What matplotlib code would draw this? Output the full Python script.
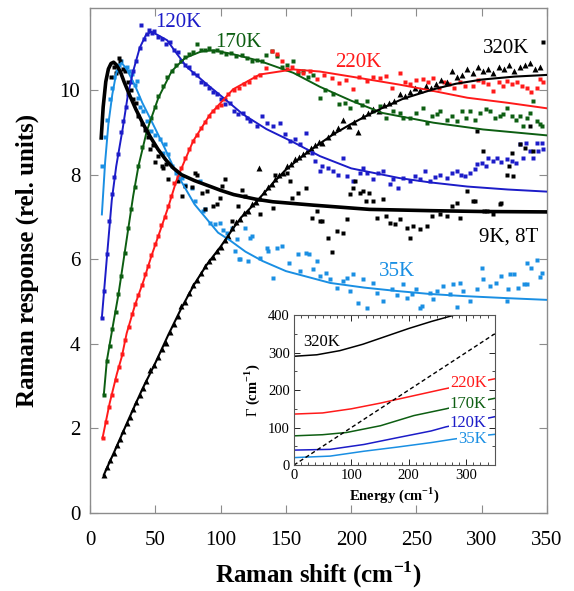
"""
Raman response vs. Raman shift at several temperatures,
with inset of the scattering rate Gamma vs. energy
"""

#%% import modules

import numpy as np
import matplotlib.pyplot as plt
import matplotlib as mpl
from matplotlib.ticker import MultipleLocator

#%% global plot settings

mpl.rcParams.update(mpl.rcParamsDefault)
mpl.rcParams['font.family'] = 'serif'
mpl.rcParams['font.serif'] = ['Liberation Serif', 'DejaVu Serif']
mpl.rcParams['mathtext.fontset'] = 'custom'
mpl.rcParams['mathtext.rm'] = 'Liberation Serif'
mpl.rcParams['mathtext.bf'] = 'Liberation Serif:bold'
mpl.rcParams['xtick.direction'] = 'in'
mpl.rcParams['ytick.direction'] = 'in'

c35 = '#1a8fe3'
c120 = '#1c1cc8'
c170 = '#0d5e12'
c220 = '#ff1a1a'
frame_gray = '#8c8c8c'

#%% data: fits (lines) and measured spectra (points)

# 9K, 8T
x9_fit = [8.5, 10, 12, 14, 16, 18, 20, 23, 26, 30, 35, 40.6, 46, 52, 58, 63.6, 70,
          80, 94, 100, 110, 127, 140, 171, 214, 260, 300, 350]
y9_fit = [8.87, 9.6, 10.2, 10.5, 10.63, 10.66, 10.6, 10.45, 10.2, 9.9, 9.55, 9.2, 8.9,
          8.6, 8.35, 8.16, 8.0, 7.86, 7.7, 7.63, 7.53, 7.42, 7.36, 7.28, 7.18, 7.15, 7.13, 7.12]
x9 = [16, 18, 20, 22, 23, 25, 27, 29, 31, 33, 35, 37, 40, 42, 44, 46, 48, 50, 52, 55,
      56, 58, 60, 67, 70.5, 73, 78, 80, 82, 86, 88, 89.6, 94, 97, 99.5, 101, 103.5, 109,
      113, 116, 119, 130, 140, 142, 151, 153, 155, 159, 165, 170, 174, 176, 178, 182,
      185, 189, 194, 197, 199, 201, 203, 207, 209, 211, 214, 217, 220, 224, 227, 230,
      233.5, 237, 243, 245, 247, 253, 258, 262, 268, 273, 277, 281, 283, 289, 293, 295,
      296, 301, 302, 304, 309, 314, 315, 319, 321, 323, 324, 329, 333, 337, 339, 347]
y9 = [10.3, 10.55, 10.4, 10.75, 10.7, 10.5, 10.45, 10.2, 10.0, 9.8, 9.7, 9.4, 9.2, 9.05,
      8.9, 8.6, 8.7, 8.3, 8.45, 8.2, 8.15, 8.25, 7.9, 7.85, 7.5, 7.73, 7.7, 8.04, 8.0,
      7.57, 7.2, 7.61, 7.26, 7.3, 7.45, 7.73, 7.9, 6.9, 7.26, 7.63, 7.5, 7.07, 7.21, 8.0,
      8.04, 7.85, 7.45, 7.57, 7.68, 6.97, 7.14, 6.9, 6.9, 6.5, 6.17, 6.67, 6.62, 6.95,
      7.54, 7.68, 7.85, 7.57, 7.61, 7.38, 7.57, 7.38, 6.97, 7.42, 7.02, 6.86, 6.83, 6.95,
      6.74, 6.5, 6.79, 6.71, 6.79, 7.02, 7.07, 7.02, 7.26, 7.33, 6.97, 7.61, 7.38, 7.38,
      9.03, 8.56, 7.14, 7.14, 7.07, 7.3, 7.32, 8.0, 8.2, 8.51, 7.97, 8.72, 8.63, 9.15,
      8.56, 11.15]

# 35K
x35_fit = [9, 11.5, 14, 17, 20, 24, 28, 34.5, 40, 47, 57, 65, 80, 98, 107, 119, 132,
           150, 184, 210, 235, 260, 286, 320, 350]
y35_fit = [7.06, 8.3, 9.2, 9.9, 10.4, 10.65, 10.5, 10.1, 9.7, 9.27, 8.64, 8.1, 7.3,
           6.63, 6.45, 6.18, 5.96, 5.72, 5.44, 5.33, 5.25, 5.18, 5.13, 5.08, 5.04]
x35 = [9.4, 11.5, 13, 15.3, 16.6, 18.5, 20.4, 22, 24, 26.8, 28, 30, 31.9, 34.5, 35.7,
       36.8, 38, 40.6, 43.4, 47, 50, 53.6, 56, 57.4, 60, 63, 66, 70.5, 73, 78, 80, 84,
       86.5, 88, 92, 95.7, 99.5, 102, 105, 108.7, 111, 112.6, 114, 115, 118.6, 121,
       122.5, 124, 130, 135.5, 136, 140, 143, 147, 152, 159, 161, 165, 168, 171, 174,
       176, 181, 184, 189, 194, 197, 199, 201, 205, 209, 212, 217, 220, 224, 231, 235,
       240, 243, 246.5, 250, 253, 254, 260, 263, 266, 270, 276, 278, 281, 283, 286, 291,
       296, 300, 301, 306, 311, 315, 319, 320, 322, 325, 328, 332, 334.6, 335, 338, 342,
       344.5, 346]
y35 = [8.2, 8.9, 9.3, 9.8, 10.05, 10.3, 10.45, 10.6, 10.7, 10.53, 10.55, 10.45, 10.37,
       10.13, 10.21, 9.82, 9.6, 9.5, 9.27, 9.03, 8.95, 8.84, 8.51, 8.72, 8.48, 8.2, 8.05,
       7.92, 7.75, 7.68, 7.38, 7.85, 7.14, 7.19, 6.86, 6.83, 6.86, 6.7, 6.62, 6.74, 6.19,
       6.48, 6.0, 6.0, 6.74, 5.96, 6.5, 6.55, 6.03, 6.26, 6.2, 5.56, 6.26, 6.31, 5.91,
       6.12, 5.72, 6.15, 6.12, 5.77, 5.96, 5.6, 5.67, 5.53, 5.32, 5.48, 5.56, 5.25, 5.65,
       4.96, 5.53, 4.85, 5.44, 5.2, 5.01, 5.3, 5.15, 5.41, 5.08, 5.18, 5.3, 4.85, 4.9,
       5.2, 5.06, 5.25, 5.37, 5.18, 5.41, 4.87, 5.44, 5.25, 5.01, 5.3, 5.79, 5.53, 5.37,
       5.44, 5.6, 5.01, 5.3, 5.65, 5.65, 5.32, 5.41, 5.91, 5.41, 5.79, 5.98, 5.58, 5.67]

# 120K
x120_fit = [9, 13, 16.6, 20, 25, 29, 33, 38, 43, 47, 52, 59, 66, 74, 89, 102, 117,
            135, 155, 176, 200, 237, 260, 289, 320, 350]
y120_fit = [4.62, 6.1, 7.4, 8.2, 9.1, 9.9, 10.45, 11.0, 11.32, 11.38, 11.3, 11.18,
            10.88, 10.55, 10.15, 9.82, 9.43, 9.08, 8.78, 8.44, 8.15, 7.92, 7.82, 7.72,
            7.65, 7.6]
x120 = [9, 10.5, 12.8, 14.5, 16.6, 18.5, 21.7, 24, 25.5, 27.5, 29.3, 31, 33.2, 35,
        38.3, 39, 41, 43.4, 45, 47.2, 49, 52, 55, 58, 61, 64, 67, 70, 73, 76, 79, 82,
        85, 88, 91, 94, 97, 100, 103, 107, 110, 113, 117, 120, 122.5, 128, 131.7, 135.5,
        140, 145.5, 149, 153, 157, 161, 165, 170, 172, 176, 178, 182, 186, 190, 194, 197,
        201, 207, 209, 212, 217, 220.5, 224, 230, 232, 236, 240, 245, 249, 253, 256.5,
        260, 264, 268, 273, 277, 281, 284, 287, 291, 295, 296, 300, 303, 305, 309, 311.6,
        315, 319, 323, 326, 329, 331.5, 334, 337, 339, 342, 343, 346, 347]
y120 = [4.62, 5.25, 6.12, 6.9, 7.55, 7.95, 8.48, 9.0, 9.27, 9.6, 9.9, 10.2, 10.45,
        10.7, 11.0, 11.54, 11.2, 11.32, 11.42, 11.36, 11.4, 11.25, 11.2, 11.1, 11.15,
        10.95, 10.9, 10.7, 10.6, 10.55, 10.4, 10.35, 10.2, 10.15, 10.05, 9.95, 9.9, 9.8,
        9.67, 9.7, 9.5, 9.43, 9.45, 9.35, 9.27, 9.15, 9.38, 9.22, 9.15, 9.22, 8.96, 8.8,
        8.85, 8.72, 8.98, 8.51, 8.32, 8.08, 8.2, 8.15, 8.08, 8.0, 8.4, 7.97, 7.85, 8.04,
        8.16, 8.04, 7.9, 8.04, 8.08, 7.78, 7.9, 7.68, 7.92, 7.85, 7.97, 7.9, 8.08, 7.85,
        7.95, 8.0, 7.92, 8.04, 8.08, 8.0, 7.97, 8.05, 8.13, 8.25, 8.27, 8.2, 8.4, 8.32,
        8.4, 8.3, 8.37, 8.32, 8.28, 8.72, 8.4, 8.75, 8.56, 8.4, 8.75, 8.56, 8.75, 8.6]

# 170K
x170_fit = [10.5, 12.8, 17, 21.7, 25, 29.3, 33, 37, 43.4, 52.3, 62.5, 72.7, 85.5, 95,
            109.5, 130, 155.6, 176, 200, 224, 263, 301, 350]
y170_fit = [2.8, 3.6, 4.35, 5.17, 5.85, 6.74, 7.5, 8.2, 9.03, 9.82, 10.45, 10.76,
            10.92, 10.94, 10.85, 10.69, 10.41, 10.08, 9.75, 9.46, 9.23, 9.07, 8.93]
x170 = [10.5, 12.8, 15, 17, 19.5, 21.7, 24, 26.5, 29.3, 31.5, 34, 37, 40, 43.4, 46.5,
        49.5, 52.3, 55.5, 59, 62.5, 66, 69.5, 72.7, 76, 79, 81.7, 85, 88, 91, 94, 97,
        100, 104, 108, 112, 116, 120, 124, 128, 132, 135, 139, 143, 147, 151, 155.6, 159,
        163, 167, 171, 176, 180, 186, 191, 195, 199, 204, 208, 212, 217, 222, 227, 232,
        237, 240, 245, 250, 255, 258, 262, 266, 268, 273, 277, 281, 285, 288, 291, 295,
        299, 303, 306, 310, 314, 316, 319, 323, 326, 329, 331.5, 334.6, 337, 339, 342,
        344.5, 346]
y170 = [2.8, 3.6, 3.95, 4.35, 4.75, 5.17, 5.6, 6.15, 6.74, 7.2, 7.7, 8.2, 8.65, 9.03,
        9.35, 9.6, 9.85, 10.1, 10.3, 10.45, 10.6, 10.7, 10.78, 10.85, 10.9, 11.08, 10.95,
        10.95, 11.0, 10.92, 10.95, 10.9, 10.85, 10.88, 10.8, 10.82, 10.75, 10.7, 10.72,
        10.7, 10.84, 10.92, 10.8, 10.55, 10.6, 10.69, 10.4, 10.45, 10.3, 10.35, 9.82,
        10.0, 9.9, 9.67, 9.7, 9.58, 9.74, 9.65, 9.74, 9.5, 9.62, 9.34, 9.5, 9.46, 9.34,
        9.34, 9.45, 9.58, 9.22, 9.4, 9.43, 9.5, 9.3, 9.4, 9.27, 9.5, 9.35, 9.5, 9.3, 9.46,
        9.55, 9.5, 9.35, 9.38, 9.43, 9.58, 9.4, 9.3, 9.38, 9.15, 9.34, 9.45, 9.74, 9.27,
        9.2, 9.15]

# 220K
x220_fit = [9.5, 12, 15, 20.4, 24.3, 28, 34.5, 40.8, 47.2, 53.6, 60, 66, 72, 79, 92,
            109.5, 130, 155.6, 176, 200, 237, 263, 289, 320, 350]
y220_fit = [1.77, 2.15, 2.6, 3.28, 3.7, 4.25, 4.93, 5.48, 6.1, 6.67, 7.25, 7.85, 8.3,
            8.8, 9.43, 10.02, 10.37, 10.49, 10.44, 10.32, 10.13, 9.98, 9.82, 9.7, 9.57]
x220 = [9.5, 12, 14.5, 17, 19.5, 22, 24.5, 27, 29.5, 32, 34.5, 37, 39.5, 42, 44.5, 47,
        49.5, 52, 54.5, 57, 59.5, 62, 64.5, 67, 70, 73, 76, 79, 82, 85, 88, 91, 94, 97,
        100, 103, 106, 110, 114, 118, 122, 126, 130, 135, 139, 143, 147, 151, 155, 159,
        163, 168.5, 174, 179, 185, 191, 196, 201, 206, 212, 217, 222, 227, 231, 237, 241,
        245, 250, 255, 259, 263, 267, 271, 275, 279, 283, 287, 293, 297, 301, 305, 309,
        313, 316, 319, 323, 327, 331, 335, 338, 342, 344.5, 347]
y220 = [1.77, 2.15, 2.5, 2.8, 3.15, 3.45, 3.75, 4.1, 4.4, 4.7, 4.95, 5.15, 5.4, 5.65,
        5.85, 6.1, 6.35, 6.55, 6.8, 7.0, 7.25, 7.5, 7.8, 7.95, 8.15, 8.4, 8.6, 8.8, 8.95,
        9.1, 9.25, 9.4, 9.5, 9.6, 9.65, 9.8, 9.9, 10.0, 10.05, 10.15, 10.2, 10.3, 10.35,
        10.53, 10.92, 10.85, 10.7, 10.5, 10.55, 10.45, 10.4, 10.45, 10.26, 10.35, 10.29,
        10.17, 10.25, 10.02, 10.3, 10.21, 10.3, 10.29, 10.33, 10.05, 10.4, 10.2, 10.15,
        10.25, 10.26, 10.2, 10.29, 10.05, 10.2, 10.15, 10.05, 10.2, 10.1, 10.1, 10.25,
        10.2, 10.15, 9.98, 10.2, 10.1, 10.21, 10.15, 10.2, 10.1, 10.05, 9.95, 10.05,
        10.26, 10.2]

# 320K
x320_fit = [10.5, 20, 30, 40, 50, 60, 70, 80, 90, 100, 110, 116, 125, 140, 150, 161,
            171, 186, 200, 214, 224, 240, 263, 280, 300, 325, 350]
y320_fit = [0.9, 1.55, 2.25, 2.93, 3.55, 4.22, 4.85, 5.42, 5.9, 6.3, 6.75, 7.0, 7.28,
            7.8, 8.12, 8.4, 8.63, 8.95, 9.2, 9.43, 9.58, 9.8, 10.02, 10.15, 10.25, 10.32,
            10.36]
x320 = [10.7, 13, 15.5, 18, 20.5, 23, 25.5, 28, 30.5, 33, 35.5, 38, 40.5, 43, 46, 49,
        52, 55, 58, 61, 64, 67, 70, 73, 76, 79, 82, 85, 88, 91, 94, 97, 100, 103, 106,
        109, 112, 115, 118, 121, 124, 127, 129, 130, 133, 136, 139, 142, 145, 148, 151,
        154, 157, 160, 163, 166, 169, 172, 175, 178, 182, 186, 190, 194, 198, 202, 205,
        209, 213, 217, 221, 225, 229, 233, 237, 241, 245, 249, 253, 257, 261, 265, 269,
        273, 277, 281, 285, 289, 293, 297, 301, 305, 309, 313, 317, 321, 325, 329, 333,
        337, 341, 345]
y320 = [0.9, 1.08, 1.25, 1.42, 1.6, 1.76, 1.94, 2.12, 2.28, 2.45, 2.63, 2.8, 2.96,
        3.12, 3.38, 3.5, 3.68, 3.88, 4.02, 4.28, 4.47, 4.66, 4.9, 5.0, 5.2, 5.38, 5.5,
        5.68, 5.85, 5.95, 6.05, 6.2, 6.3, 6.45, 6.55, 6.75, 6.88, 6.95, 7.1, 7.15, 7.3,
        7.35, 8.16, 7.45, 7.6, 7.7, 7.78, 7.9, 8.0, 8.05, 8.2, 8.25, 8.38, 8.42, 8.5,
        8.55, 8.62, 8.7, 8.78, 8.75, 8.9, 9.0, 9.1, 9.3, 9.15, 9.25, 9.0, 9.4, 9.45, 9.55,
        9.5, 9.65, 9.7, 9.75, 9.9, 9.85, 9.95, 10.05, 10.0, 10.1, 10.05, 10.15, 10.25,
        10.2, 10.45, 10.3, 10.35, 10.5, 10.4, 10.55, 10.45, 10.5, 10.4, 10.55, 10.5, 10.6,
        10.45, 10.55, 10.6, 10.65, 10.5, 10.55]

# inset: Gamma vs energy
e320 = [0, 40, 80, 120, 160, 200, 240, 280, 300]
g320 = [290, 294, 305, 322, 343, 364, 383, 400, 410]
e220 = [0, 50, 100, 150, 200, 262, 300, 350]
g220 = [136, 139, 150, 165, 182, 203, 215, 230]
e170 = [0, 50, 92, 151, 209, 265, 300, 350]
g170 = [78, 81, 87, 105, 132, 150, 163, 178]
e120 = [0, 63, 122, 180, 239, 265, 300, 350]
g120 = [40, 42, 55, 73, 91, 102, 113, 129]
e35 = [0, 63, 122, 180, 239, 277, 300, 350]
g35 = [20, 24, 37, 48, 60, 69, 74, 82]
e_diag = [0, 350]
g_diag = [0, 350]

#%% plot

fig = plt.figure(figsize=(5.74, 5.91), dpi=100)
ax = fig.add_axes([0.157, 0.132, 0.796, 0.855])

ms_pt = 2.3
series = [(x35, y35, x35_fit, y35_fit, c35),
          (x120, y120, x120_fit, y120_fit, c120),
          (x170, y170, x170_fit, y170_fit, c170),
          (x220, y220, x220_fit, y220_fit, c220)]
for xd, yd, xf, yf, col in series:
    ax.plot(xd, yd, 's', ms=ms_pt, mec='none', mfc=col, zorder=2)
    ax.plot(xf, yf, '-', lw=1.4, color=col, zorder=3)

ax.plot(x9, y9, 's', ms=ms_pt, mec='none', mfc='k', zorder=2)
ax.plot(x9_fit, y9_fit, '-', lw=2.6, color='k', zorder=4)
ax.plot(x320, y320, '^', ms=4.2, mec='none', mfc='k', zorder=2)
ax.plot(x320_fit, y320_fit, '-', lw=1.5, color='k', zorder=3)

# curve labels
lab_kw = dict(fontsize=15, va='center', ha='left')
ax.text(50, 11.6, '120K', color=c120, **lab_kw)
ax.text(96, 11.12, '170K', color=c170, **lab_kw)
ax.text(188, 10.66, '220K', color=c220, **lab_kw)
ax.text(301, 10.98, '320K', color='k', **lab_kw)
ax.text(298, 6.52, '9K, 8T', color='k', **lab_kw)
ax.text(221, 5.72, '35K', color=c35, **lab_kw)

# axes
ax.set_xlim(0, 350)
ax.set_ylim(0, 11.95)
ax.xaxis.set_major_locator(MultipleLocator(50))
ax.yaxis.set_major_locator(MultipleLocator(2))
ax.tick_params(which='both', top=True, right=True, length=6, width=0.8,
               color=frame_gray, labelsize=15, pad=7)
ax.tick_params(axis='x', pad=13)
for sp in ax.spines.values():
    sp.set_color(frame_gray)
    sp.set_linewidth(1.0)
ax.set_xlabel(r'Raman shift (cm$^{\mathbf{-1}}$)', fontsize=18, fontweight='bold',
              labelpad=7)
ax.set_ylabel('Raman response (rel. units)', fontsize=18, fontweight='bold',
              labelpad=15)

#------------------------------------------------------------------------------
# inset

ins = fig.add_axes([0.512, 0.213, 0.350, 0.254])
ins.plot(e320, g320, '-', lw=1.1, color='k')
ins.plot(e220, g220, '-', lw=1.1, color=c220)
ins.plot(e170, g170, '-', lw=1.1, color=c170)
ins.plot(e120, g120, '-', lw=1.1, color=c120)
ins.plot(e35, g35, '-', lw=1.1, color=c35)
ins.plot(e_diag, g_diag, '--', lw=1.0, color='k', dashes=(3, 2))

in_kw = dict(fontsize=12, va='center', ha='right',
             bbox=dict(boxstyle='square,pad=0.05', fc='white', ec='none'))
ins.text(17, 328, '320K', color='k', fontsize=12, va='center', ha='left')
ins.text(336, 219, '220K', color=c220, **in_kw)
ins.text(336, 163, '170K', color=c170, **in_kw)
ins.text(336, 112, '120K', color=c120, **in_kw)
ins.text(336, 69, '35K', color=c35, **in_kw)

ins.set_xlim(0, 350)
ins.set_ylim(0, 400)
ins.xaxis.set_major_locator(MultipleLocator(100))
ins.xaxis.set_minor_locator(MultipleLocator(12.5))
ins.yaxis.set_major_locator(MultipleLocator(100))
ins.yaxis.set_minor_locator(MultipleLocator(50))
ins.tick_params(which='major', top=True, right=True, length=4, width=0.6,
                labelsize=10.5, pad=3)
ins.tick_params(which='minor', top=True, right=True, length=2, width=0.5)
for sp in ins.spines.values():
    sp.set_color('#555555')
    sp.set_linewidth(0.8)
ins.set_xlabel(r'Energy (cm$^{\mathbf{-1}}$)', fontsize=10.5, fontweight='bold',
               labelpad=2)
ins.set_ylabel(r'$\Gamma$ (cm$^{\mathbf{-1}}$)', fontsize=10.5, fontweight='bold',
               labelpad=4)

fig.savefig('out.png', dpi=100)
